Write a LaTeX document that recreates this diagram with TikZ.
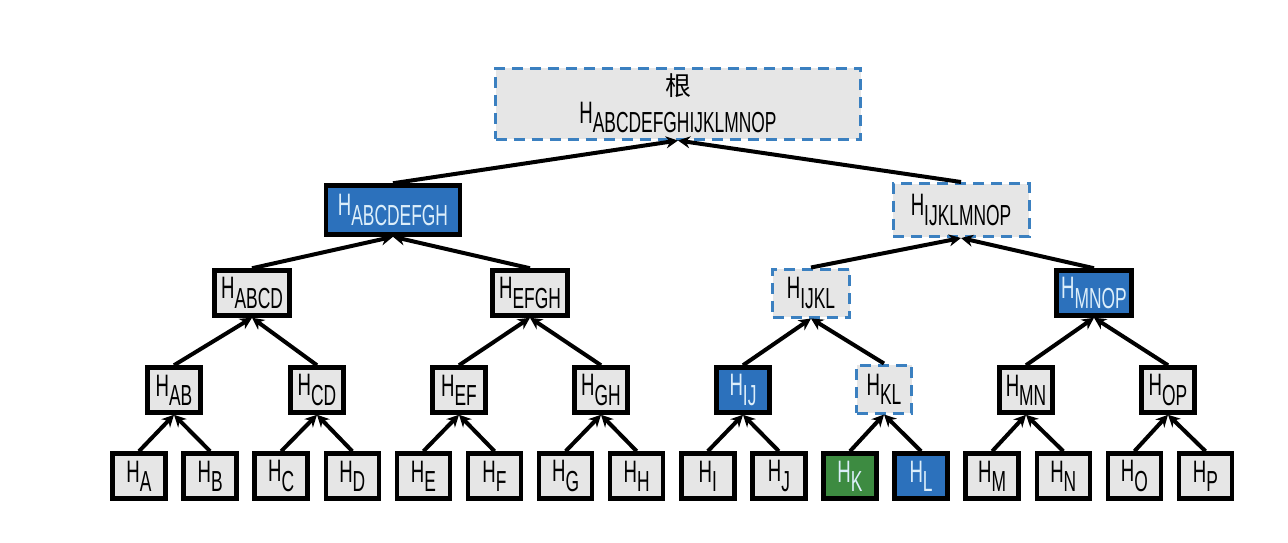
\documentclass[tikz,border=0pt]{standalone}
\usepackage{fontspec}
\setmainfont{Liberation Sans}[FakeStretch=0.6]
\newfontfamily\cjk{Noto Sans CJK SC}
\usetikzlibrary{arrows.meta,positioning}

\definecolor{hgray}{HTML}{E6E6E6}
\definecolor{hblue}{HTML}{2C71BC}
\definecolor{hgreen}{HTML}{3D8B41}
\definecolor{hdash}{HTML}{3B80C0}
\definecolor{hlight}{HTML}{DCEEFA}

\newcommand{\hx}[1]{H\raisebox{-0.3em}{\fontsize{29}{29}\selectfont #1}}

\begin{document}
\begin{tikzpicture}[x=1pt,y=-1pt,
  hnode/.style={draw=black,line width=4.5pt,fill=hgray,inner sep=0pt,
    minimum width=53pt,minimum height=45pt,
    font=\fontsize{31}{31}\selectfont},
  hwide/.style={hnode,minimum width=75pt},
  hblue/.style={fill=hblue,text=hlight},
  hgreen/.style={fill=hgreen,text=hlight},
  hdashed/.style={draw=hdash,line width=3pt,dash pattern=on 11pt off 7pt},
  up/.style={-{Stealth[length=12pt,width=12pt]},line width=4pt}]
\useasboundingbox (0,0) rectangle (1288,542);

% leaves
\foreach \n [count=\i from 0] in {A,B,C,D,E,F,G,H,I,J,K,L,M,N,O,P}
  \node[hnode] (h\n) at (139+71.1*\i,476) {\hx{\n}};
\node[hnode,hgreen] at (hK) {\hx{K}};
\node[hnode,hblue] at (hL) {\hx{L}};

% pairs
\node[hnode] (hAB) at (174,390) {\hx{AB}};
\node[hnode] (hCD) at (317,390) {\hx{CD}};
\node[hnode] (hEF) at (459,390) {\hx{EF}};
\node[hnode] (hGH) at (601,390) {\hx{GH}};
\node[hnode,hblue] (hIJ) at (743,390) {\hx{IJ}};
\node[hnode,hdashed,minimum width=55pt,minimum height=48pt] (hKL) at (884,389) {\hx{KL}};
\node[hnode] (hMN) at (1026,390) {\hx{MN}};
\node[hnode] (hOP) at (1168,390) {\hx{OP}};

% fours
\node[hwide] (hABCD) at (252,293) {\hx{ABCD}};
\node[hwide] (hEFGH) at (530,293) {\hx{EFGH}};
\node[hwide,hdashed,minimum width=77pt,minimum height=48pt] (hIJKL) at (811,293) {\hx{IJKL}};
\node[hwide,hblue] (hMNOP) at (1094,293) {\hx{MNOP}};

% eights
\node[hnode,hblue,minimum width=134pt,minimum height=49pt] (hABCDEFGH) at (393,210) {\hx{ABCDEFGH}};
\node[hnode,hdashed,minimum width=136pt,minimum height=53pt] (hIJKLMNOP) at (961,210) {\hx{IJKLMNOP}};

% root
\node[hnode,hdashed,minimum width=365pt,minimum height=71pt,align=center,
  font=\fontsize{31}{32}\selectfont] (root) at (678,103.5)
  {{\cjk\fontsize{26}{26}\selectfont 根}\\[-4pt]\hx{ABCDEFGHIJKLMNOP}\vphantom{p}};

\foreach \a/\b/\p in {A/B/AB,C/D/CD,E/F/EF,G/H/GH,I/J/IJ,K/L/KL,M/N/MN,O/P/OP,
    AB/CD/ABCD,EF/GH/EFGH,IJ/KL/IJKL,MN/OP/MNOP,
    ABCD/EFGH/ABCDEFGH,IJKL/MNOP/IJKLMNOP}{
  \draw[up] (h\a.north) -- (h\p.south);
  \draw[up] (h\b.north) -- (h\p.south);
}
\draw[up] (hABCDEFGH.north) -- (root.south);
\draw[up] (hIJKLMNOP.north) -- (root.south);
\end{tikzpicture}
\end{document}
